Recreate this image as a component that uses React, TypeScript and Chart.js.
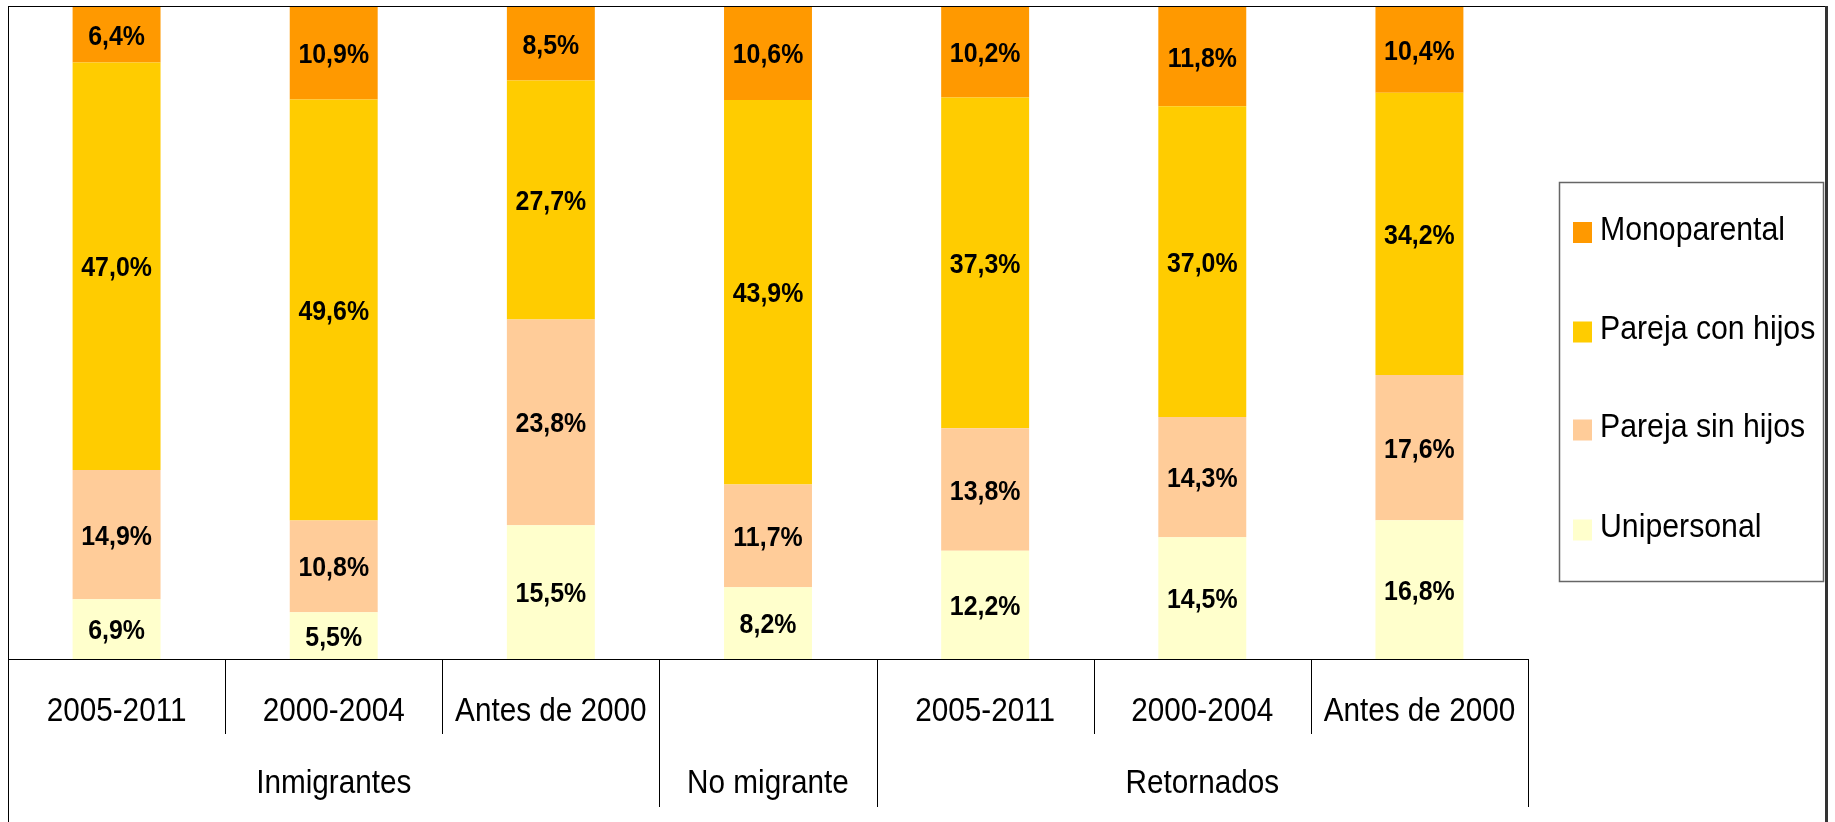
import React, { useEffect, useRef } from "react";
import { Chart, registerables } from "chart.js";

Chart.register(...registerables);

const subLabels = ["2005-2011", "2000-2004", "Antes de 2000", "", "2005-2011", "2000-2004", "Antes de 2000"];
const groupLabels = ["Inmigrantes", "No migrante", "Retornados"];
const groupSpans = [3, 1, 3];

const unipersonal = [6.9, 5.5, 15.5, 8.2, 12.2, 14.5, 16.8];
const parejaSinHijos = [14.9, 10.8, 23.8, 11.7, 13.8, 14.3, 17.6];
const parejaConHijos = [47.0, 49.6, 27.7, 43.9, 37.3, 37.0, 34.2];
const monoparental = [6.4, 10.9, 8.5, 10.6, 10.2, 11.8, 10.4];

const seriesNames = ["Unipersonal", "Pareja sin hijos", "Pareja con hijos", "Monoparental"];
const seriesColors = ["#FFFFCC", "#FFCC99", "#FFCC00", "#FF9900"];

const FONT = "'Liberation Sans', Arial, sans-serif";

function drawText(ctx: CanvasRenderingContext2D, text: string, x: number, y: number, font: string, sx: number, align: CanvasTextAlign) {
  ctx.save();
  ctx.font = font;
  ctx.textAlign = align;
  ctx.textBaseline = "alphabetic";
  ctx.fillStyle = "#000000";
  ctx.translate(x, y);
  ctx.scale(sx, 1);
  ctx.fillText(text, 0, 0);
  ctx.restore();
}

const decorPlugin = {
  id: "decor",
  afterDatasetsDraw(chart: any) {
    const ctx: CanvasRenderingContext2D = chart.ctx;
    const area = chart.chartArea;
    const xScale = chart.scales.x;
    const raw = chart.data.datasets.map((d: any) => d.rawValues);

    chart.data.datasets.forEach((ds: any, di: number) => {
      const meta = chart.getDatasetMeta(di);
      meta.data.forEach((el: any, i: number) => {
        const cy = (el.y + el.base) / 2;
        const txt = raw[di][i].toFixed(1).replace(".", ",") + "%";
        drawText(ctx, txt, el.x, cy + 10, `bold 28px ${FONT}`, 0.89, "center");
      });
    });

    const n = chart.data.labels.length;
    const step = (area.right - area.left) / n;
    const bottom = area.bottom;

    ctx.save();
    ctx.strokeStyle = "#000000";
    ctx.lineWidth = 1;
    ctx.beginPath();
    ctx.moveTo(area.left, bottom + 0.5);
    ctx.lineTo(area.right, bottom + 0.5);
    ctx.stroke();

    const groupBoundaries = new Set<number>();
    let acc = 0;
    groupBoundaries.add(0);
    groupSpans.forEach((s) => {
      acc += s;
      groupBoundaries.add(acc);
    });
    for (let b = 1; b <= n; b++) {
      const x = Math.round(xScale.getPixelForValue(b - 1) + step / 2) + 0.5;
      const long = groupBoundaries.has(b);
      ctx.beginPath();
      ctx.moveTo(x, bottom);
      ctx.lineTo(x, long ? 807 : 734);
      ctx.stroke();
    }
    ctx.restore();

    chart.data.labels.forEach((lab: string, i: number) => {
      if (!lab) return;
      drawText(ctx, lab, xScale.getPixelForValue(i), 721, `33px ${FONT}`, 0.9, "center");
    });
    let start = 0;
    groupLabels.forEach((g, gi) => {
      const span = groupSpans[gi];
      const x0 = xScale.getPixelForValue(start) - step / 2;
      const x1 = xScale.getPixelForValue(start + span - 1) + step / 2;
      drawText(ctx, g, (x0 + x1) / 2, 793, `33px ${FONT}`, 0.9, "center");
      start += span;
    });
  },
};

const legendPlugin = {
  id: "customLegend",
  afterDraw(chart: any) {
    const ctx: CanvasRenderingContext2D = chart.ctx;
    const ds = chart.data.datasets;

    ctx.save();
    ctx.fillStyle = "#000000";
    ctx.fillRect(8, 6, 1, 816);
    ctx.fillRect(8, 6, 1819, 1);
    ctx.fillStyle = "#333333";
    ctx.fillRect(1825, 6, 3, 816);
    ctx.strokeStyle = "#666666";
    ctx.lineWidth = 1.5;
    ctx.strokeRect(1559.5, 182.5, 264, 399);
    ctx.restore();

    const centers = [232.5, 332, 430, 530];
    const order = [...ds.keys()].reverse();
    order.forEach((di: number, k: number) => {
      const cy = centers[k];
      ctx.save();
      ctx.fillStyle = ds[di].backgroundColor;
      ctx.fillRect(1573, cy - 10.5, 19, 21);
      ctx.restore();
      drawText(ctx, ds[di].label, 1600, cy + 7, `34px ${FONT}`, 0.89, "left");
    });
  },
};

export default function App() {
  const ref = useRef<HTMLCanvasElement | null>(null);
  useEffect(() => {
    if (!ref.current) return;
    const rawSeries = [unipersonal, parejaSinHijos, parejaConHijos, monoparental];
    const totals = subLabels.map((_, i) => rawSeries.reduce((s, arr) => s + arr[i], 0));
    const chart = new Chart(ref.current, {
      type: "bar",
      data: {
        labels: subLabels,
        datasets: rawSeries.map((arr, si) => ({
          label: seriesNames[si],
          data: arr.map((v, i) => (v / totals[i]) * 100),
          rawValues: arr,
          backgroundColor: seriesColors[si],
          borderWidth: 0,
          categoryPercentage: 1,
          barPercentage: 0.405,
        })) as any,
      },
      options: {
        animation: false,
        responsive: false,
        maintainAspectRatio: false,
        layout: { padding: { left: 8, top: 7, right: 307, bottom: 163 } },
        plugins: { legend: { display: false }, tooltip: { enabled: false }, title: { display: false } },
        scales: {
          x: { stacked: true, display: false },
          y: { stacked: true, display: false, min: 0, max: 100 },
        },
      },
      plugins: [decorPlugin, legendPlugin],
    });
    return () => chart.destroy();
  }, []);
  return (
    <div style={{ position: "fixed", left: 0, top: 0, width: 1835, height: 822, background: "#ffffff" }}>
      <canvas ref={ref} width={1835} height={822} style={{ width: 1835, height: 822, display: "block" }} />
    </div>
  );
}
